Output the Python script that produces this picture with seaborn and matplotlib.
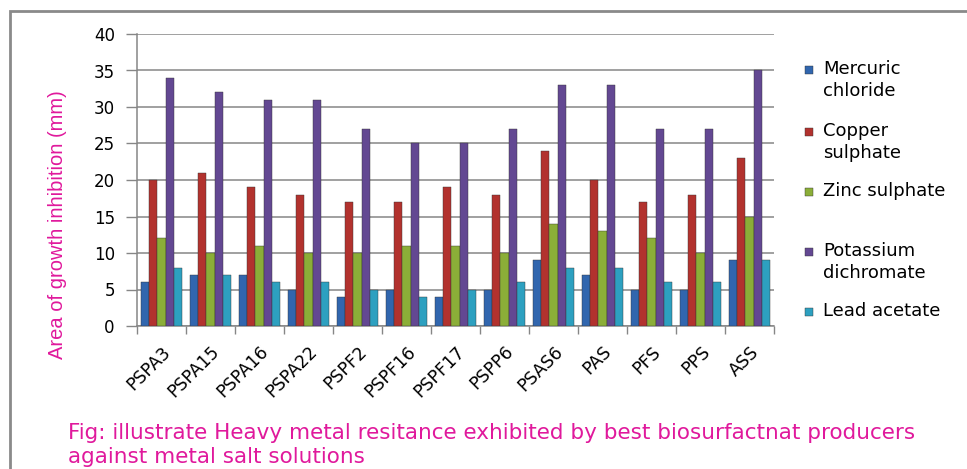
import matplotlib
matplotlib.use("Agg")
import matplotlib.pyplot as plt
import matplotlib.patches as mpatches
import seaborn as sns
import pandas as pd

isolates = ["PSPA3", "PSPA15", "PSPA16", "PSPA22", "PSPF2", "PSPF16", "PSPF17",
            "PSPP6", "PSAS6", "PAS", "PFS", "PPS", "ASS"]
mercuric_chloride = [6, 7, 7, 5, 4, 5, 4, 5, 9, 7, 5, 5, 9]
copper_sulphate = [20, 21, 19, 18, 17, 17, 19, 18, 24, 20, 17, 18, 23]
zinc_sulphate = [12, 10, 11, 10, 10, 11, 11, 10, 14, 13, 12, 10, 15]
potassium_dichromate = [34, 32, 31, 31, 27, 25, 25, 27, 33, 33, 27, 27, 35]
lead_acetate = [8, 7, 6, 6, 5, 4, 5, 6, 8, 8, 6, 6, 9]

series_names = ["Mercuric chloride", "Copper sulphate", "Zinc sulphate",
                "Potassium dichromate", "Lead acetate"]
legend_labels = ["Mercuric\nchloride", "Copper\nsulphate", "Zinc sulphate",
                 "Potassium\ndichromate", "Lead acetate"]
colors = ["#3166AE", "#B2322E", "#8BAE38", "#634892", "#2DA0C0"]

series_values = [mercuric_chloride, copper_sulphate, zinc_sulphate,
                 potassium_dichromate, lead_acetate]
rows = []
for name, vals in zip(series_names, series_values):
    for iso, v in zip(isolates, vals):
        rows.append({"Isolate": iso, "Metal": name, "Value": v})
df = pd.DataFrame(rows)

sns.set_theme(style="white")
plt.rcParams["font.family"] = ["DejaVu Sans"]

W, H = 967, 469
fig = plt.figure(figsize=(W / 100, H / 100), dpi=100)
ax = fig.add_axes([137 / W, 1 - 326 / H, (774 - 137) / W, (326 - 34) / H])

sns.barplot(data=df, x="Isolate", y="Value", hue="Metal", order=isolates,
            hue_order=series_names, palette=colors, width=0.82, gap=0,
            saturation=1, ax=ax, legend=False, edgecolor="#333333", linewidth=0.3,
            zorder=3)

ax.set_ylim(0, 40)
ax.set_yticks(range(0, 41, 5))
ax.set_xlim(-0.5, len(isolates) - 0.5)
ax.yaxis.grid(True, color="#868686", linewidth=1.1, zorder=0)
ax.set_axisbelow(True)
for s in ["top", "right"]:
    ax.spines[s].set_visible(False)
for s in ["left", "bottom"]:
    ax.spines[s].set_color("#868686")
    ax.spines[s].set_linewidth(1.1)

ax.tick_params(axis="y", which="both", left=True, length=8, width=1, color="#868686",
               labelsize=12, pad=8, labelcolor="black")
ax.set_xticks([i - 0.5 for i in range(len(isolates) + 1)], minor=True)
ax.set_xticks(range(len(isolates)))
ax.set_xticklabels(isolates, rotation=45, ha="right", rotation_mode="anchor")
ax.tick_params(axis="x", which="major", length=0, labelsize=12.5, pad=12, labelcolor="black")
ax.tick_params(axis="x", which="minor", bottom=True, length=6, width=1, color="#868686")
ax.set_xlabel("")
ax.set_ylabel("Area of growth inhibition (mm)", color="#E0199C", fontsize=14.5,
              family=["Liberation Sans Narrow", "Liberation Sans", "DejaVu Sans"])
ax.yaxis.set_label_coords(-70 / (774 - 137), (326 - 225) / 292)

# Legend drawn manually
leg_y = [70, 132, 192, 252, 312]
for lab, col, y in zip(legend_labels, colors, leg_y):
    fig.add_artist(mpatches.Rectangle((805 / W, 1 - (y + 4) / H), 8 / W, 8 / H,
                                      transform=fig.transFigure, facecolor=col,
                                      edgecolor="#333333", linewidth=0.3))
    fig.text(823 / W, 1 - (y - 10) / H, lab, fontsize=13, va="top", ha="left",
             linespacing=1.3, color="black")

# Caption
fig.text(68 / W, 1 - 445 / H,
         "Fig: illustrate Heavy metal resitance exhibited by best biosurfactnat producers\nagainst metal salt solutions",
         fontsize=15.5, color="#E0199C", va="center", ha="left", linespacing=1.2,
         family=["DejaVu Sans"])

# Outer frame
fig.add_artist(mpatches.Rectangle((10 / W, -0.2), 1.2, 1.2 - 11 / H,
                                  transform=fig.transFigure, fill=False,
                                  edgecolor="#8A8A8A", linewidth=2))

fig.savefig("out.png", dpi=100)
